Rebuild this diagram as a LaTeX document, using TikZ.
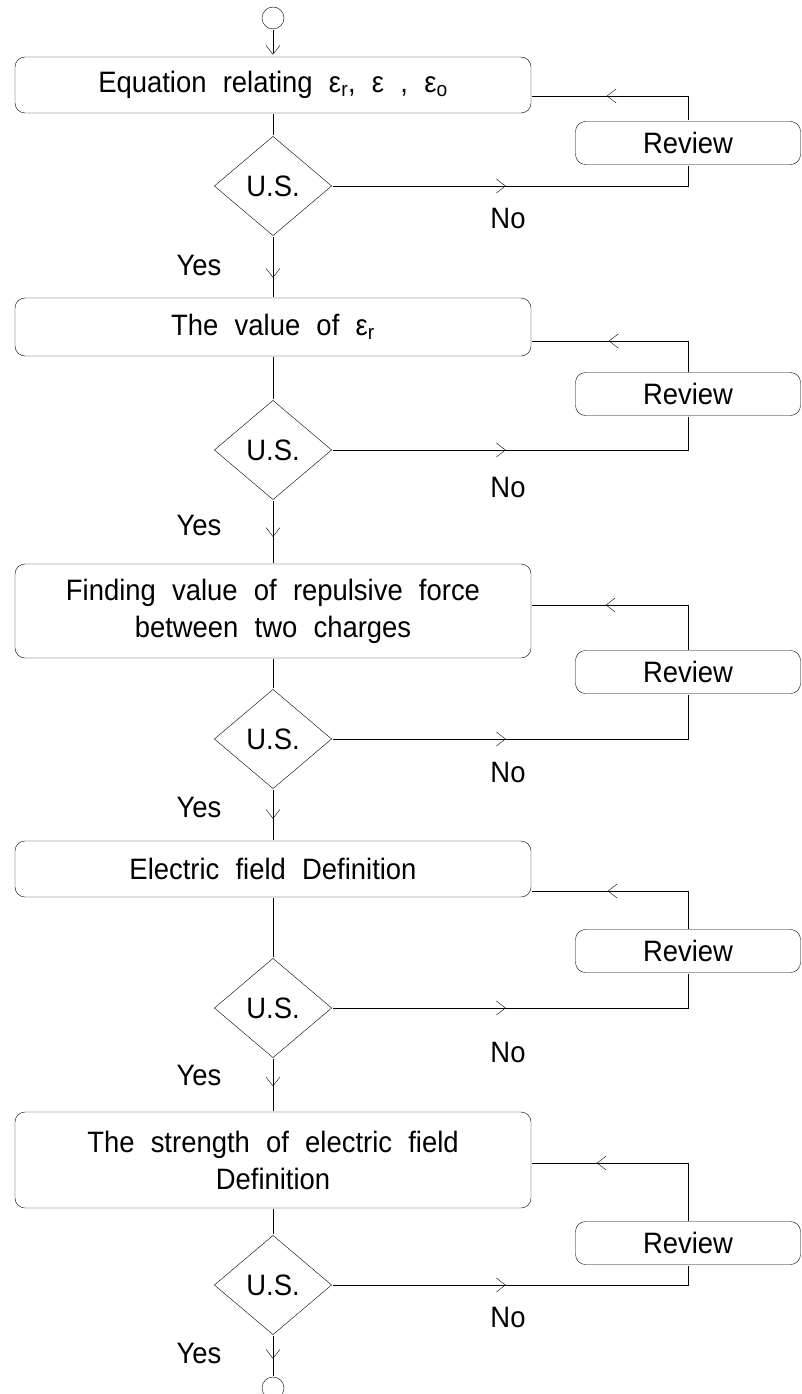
\documentclass[tikz,border=0pt]{standalone}
\usepackage{fontspec}
\setmainfont{Liberation Sans}[FakeStretch=0.93]
\usetikzlibrary{arrows.meta,shapes.geometric,decorations.markings}
\newcommand{\flowfont}{\fontsize{29.5}{37}\selectfont\spaceskip=0.55em plus 0.1em\relax}

\begin{document}
\begin{tikzpicture}[x=1pt,y=-1pt]
		\tikzset{line width=2pt, >={Straight Barb[length=9pt,width=14pt]},
			every node/.style={font=\flowfont},
			stage/.style={shape=rectangle,draw,rounded corners=10pt,minimum width=516pt,align=center,inner sep=0pt},
			review/.style={shape=rectangle,draw,rounded corners=10pt,minimum width=225pt,minimum height=43pt,inner sep=0pt},
			test/.style={shape=diamond,draw,minimum width=118pt,minimum height=100pt,inner sep=0pt},
			terminal/.style={shape=circle,draw,minimum size=22pt,inner sep=0pt},
			arrowat/.style={decoration={markings,mark=at position #1 with {\arrow{>}}},postaction={decorate}}}
		\useasboundingbox (0,0) rectangle (801,1394);
		\node[terminal] (start) at (273,18) {};
		\node[stage,minimum height=56pt] (box1) at (273,85) {Equation relating ε\textsubscript{r}, ε , ε\textsubscript{o}};
		\node[review] (rev1) at (688,143) {Review};
		\node[test] (us1) at (273,186) {U.S.};
		\node (no1) at (508,218) {No};
		\node (yes1) at (199,265) {Yes};
		\node[stage,minimum height=58pt] (box2) at (273,327) {The value of ε\textsubscript{r}};
		\node[review] (rev2) at (688,394) {Review};
		\node[test] (us2) at (273,450) {U.S.};
		\node (no2) at (508,487) {No};
		\node (yes2) at (199,525) {Yes};
		\node[stage,minimum height=94pt] (box3) at (273,611) {Finding value of repulsive force\\between two charges};
		\node[review] (rev3) at (688,672) {Review};
		\node[test] (us3) at (273,739) {U.S.};
		\node (no3) at (508,772) {No};
		\node (yes3) at (199,807) {Yes};
		\node[stage,minimum height=56pt] (box4) at (273,869) {Electric field Definition};
		\node[review] (rev4) at (688,951) {Review};
		\node[test] (us4) at (273,1008) {U.S.};
		\node (no4) at (508,1052) {No};
		\node (yes4) at (199,1075) {Yes};
		\node[stage,minimum height=96pt] (box5) at (273,1160) {The strength of electric field\\Definition};
		\node[review] (rev5) at (688,1243) {Review};
		\node[test] (us5) at (273,1285) {U.S.};
		\node (no5) at (508,1317) {No};
		\node (yes5) at (199,1353) {Yes};
		\node[terminal] (stop) at (273,1388) {};
		%main line
		\draw[->] (start) -- (box1);
		\draw (box1) -- (us1);
		\draw[arrowat=0.7] (us1) -- (box2);
		\draw (box2) -- (us2);
		\draw[arrowat=0.6] (us2) -- (box3);
		\draw (box3) -- (us3);
		\draw[arrowat=0.6] (us3) -- (box4);
		\draw (box4) -- (us4);
		\draw[arrowat=0.55] (us4) -- (box5);
		\draw (box5) -- (us5);
		\draw[arrowat=0.6] (us5) -- (stop);
		%review loops
		\draw[arrowat=174pt] (us1.east) -| (rev1.south);
		\draw[arrowat=107pt] (rev1.north) |- (box1.east |- 0,96);
		\draw[arrowat=174pt] (us2.east) -| (rev2.south);
		\draw[arrowat=111pt] (rev2.north) |- (box2.east |- 0,341);
		\draw[arrowat=174pt] (us3.east) -| (rev3.south);
		\draw[arrowat=128pt] (rev3.north) |- (box3.east |- 0,605);
		\draw[arrowat=174pt] (us4.east) -| (rev4.south);
		\draw[arrowat=119pt] (rev4.north) |- (box4.east |- 0,891);
		\draw[arrowat=174pt] (us5.east) -| (rev5.south);
		\draw[arrowat=150pt] (rev5.north) |- (box5.east |- 0,1163);
\end{tikzpicture}
\end{document}
